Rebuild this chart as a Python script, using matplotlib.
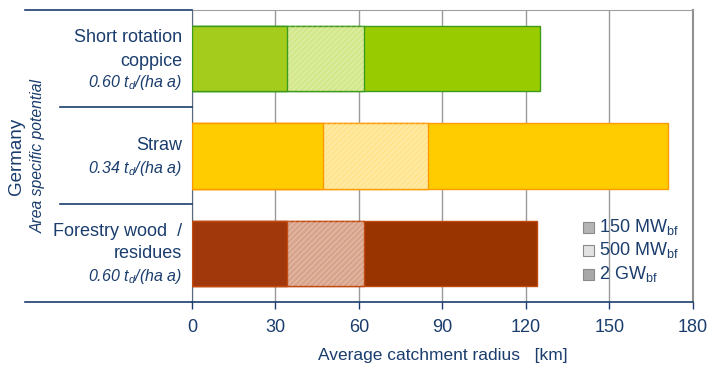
import matplotlib
matplotlib.use("Agg")
from matplotlib import pyplot as plt
from matplotlib.patches import Rectangle
from matplotlib.lines import Line2D

plt.rcParams['font.family'] = ['Liberation Sans', 'DejaVu Sans']
plt.rcParams['mathtext.fontset'] = 'custom'
plt.rcParams['mathtext.rm'] = 'Liberation Sans'
plt.rcParams['mathtext.it'] = 'Liberation Sans:italic'
plt.rcParams['hatch.linewidth'] = 0.6

# data (catchment radius in km), top to bottom
crops = [["Short rotation", "coppice"], ["Straw"], ["Forestry wood  /", "residues"]]
potential = ["0.60", "0.34", "0.60"]
r_150mw = [34, 47, 34]
r_500mw = [62, 85, 62]
r_2gw = [125, 171, 124]
sizes = ["150 MW$_{\\mathrm{bf}}$", "500 MW$_{\\mathrm{bf}}$", "2 GW$_{\\mathrm{bf}}$"]

col_dark = ["#a3cc1c", "#ffcc00", "#a0380c"]
col_light = ["#d3e88a", "#ffe58f", "#d9a48c"]
col_big = ["#99cc00", "#ffcc00", "#993300"]
col_edge = ["#3d9a1a", "#ff9900", "#c04a10"]
txt = "#1a3d6d"

W, H = 710, 367
fig = plt.figure(figsize=(7.1, 3.67), dpi=100)
ax = fig.add_axes([192/W, 1-302/H, (692.7-192)/W, 292/H])

ypos = [2, 1, 0]
h = 0.67
for i, y in enumerate(ypos):
    ax.barh(y, r_2gw[i], height=h, color=col_big[i], edgecolor=col_edge[i], lw=1, zorder=3)
    ax.barh(y, r_500mw[i], height=h, color=col_light[i], edgecolor=col_edge[i], lw=1, zorder=4)
    ax.barh(y, r_500mw[i], height=h, fill=False, hatch='//////', edgecolor='white', lw=0, zorder=4, alpha=0.35)
    ax.barh(y, r_150mw[i], height=h, color=col_dark[i], edgecolor=col_edge[i], lw=1, zorder=5)

ax.set_xlim(0, 180)
ax.set_ylim(-0.5, 2.5)
ax.set_xticks(range(0, 181, 30))
ax.set_yticks([])
ax.grid(axis='x', color='#9a9a9a', lw=1, zorder=0)
ax.tick_params(axis='x', colors=txt, labelsize=13, length=5, width=1, direction='out', pad=7)
ax.set_xlabel("Average catchment radius   [km]", fontsize=12.5, color=txt, labelpad=9)

ax.spines['top'].set_color('#a0a0a0')
ax.spines['right'].set_color('#909090')
ax.spines['right'].set_linewidth(1.5)
ax.spines['left'].set_color('#5a6b80')
ax.spines['bottom'].set_color(txt)
ax.spines['bottom'].set_linewidth(1.2)

# left side lines
def hline(x0, x1, y):
    fig.add_artist(Line2D([x0/W, x1/W], [1-y/H, 1-y/H], color=txt, lw=1.2))

hline(25, 192, 10)
hline(60, 192, 107)
hline(60, 192, 204)
hline(25, 192, 302)

# category labels (pixel rows of each line)
name_rows = [[38, 61], [146], [231, 253]]
pot_rows = [82, 169, 276]
for i in range(3):
    for line, yy in zip(crops[i], name_rows[i]):
        fig.text(182/W, 1-yy/H, line, ha='right', va='center', fontsize=13, color=txt)
    fig.text(182/W, 1-pot_rows[i]/H, potential[i] + " $t_d$/(ha a)",
             ha='right', va='center', fontsize=11.5, style='italic', color=txt)

fig.text(16/W, 1-156/H, "Germany", rotation=90, ha='center', va='center', fontsize=13.5, color=txt)
fig.text(38/W, 1-156/H, "Area specific potential", rotation=90, ha='center', va='center',
         fontsize=11.3, style='italic', color=txt)

# legend
leg_face = ["#b4b4b4", "#e2e2e2", "#a8a8a8"]
leg_y = [227, 250, 274]
for k in range(3):
    fig.add_artist(Rectangle((583/W, 1-(leg_y[k]+6)/H), 11/W, 11/H,
                             facecolor=leg_face[k], edgecolor='#8a8a8a', lw=0.8))
    fig.text(599/W, 1-leg_y[k]/H, sizes[k], ha='left', va='center', fontsize=13, color=txt)

fig.savefig("out.png", dpi=100)
